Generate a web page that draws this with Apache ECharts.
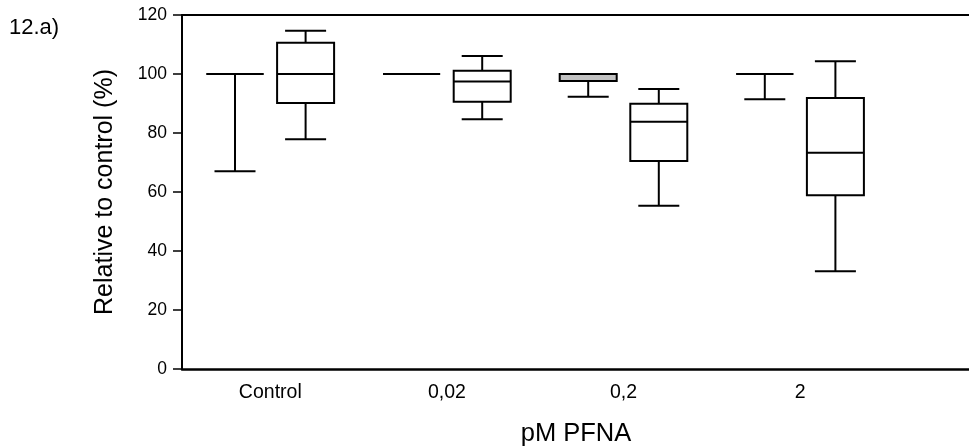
<!DOCTYPE html>
<html>
<head>
<meta charset="utf-8">
<script src="https://cdn.jsdelivr.net/npm/echarts@6/dist/echarts.min.js"></script>
<style>
html,body{margin:0;padding:0;background:#fff;}
#chart{width:969px;height:448px;}
</style>
</head>
<body>
<div id="chart"></div>
<script>
// Categories (the fifth slot is the empty, cropped-off position of the original figure)
const categories = ['Control', '0,02', '0,2', '2', ''];
const yTicks = [0, 20, 40, 60, 80, 100, 120];

// Five-number summaries [min, Q1, median, Q3, max] per category
const leftBoxes = [
  [67, 100, 100, 100, 100],
  [100, 100, 100, 100, 100],
  [92.3, 97.6, 100, 100, 100],
  [91.4, 100, 100, 100, 100]
];
const rightBoxes = [
  [77.9, 90.2, 100, 110.6, 114.7],
  [84.7, 90.6, 97.5, 101.1, 106.1],
  [55.3, 70.5, 83.8, 89.9, 94.9],
  [33.1, 58.9, 73.3, 91.9, 104.3]
];

const BOX_W = 57, CAP_W = 41, OFFSET = 35.3;

function toRows(boxes) {
  return boxes.map((b, i) => [i].concat(b));
}

function makeRender(offset, fill) {
  return function (params, api) {
    const ci = api.value(0);
    const x = api.coord([ci, 0])[0] + offset;
    const y = v => api.coord([ci, v])[1];
    const yMin = y(api.value(1)), yQ1 = y(api.value(2)), yMed = y(api.value(3)),
          yQ3 = y(api.value(4)), yMax = y(api.value(5));
    const ls = { stroke: '#000', lineWidth: 2 };
    const children = [
      { type: 'line', shape: { x1: x, y1: yQ1, x2: x, y2: yMin }, style: ls },
      { type: 'line', shape: { x1: x, y1: yQ3, x2: x, y2: yMax }, style: ls },
      { type: 'line', shape: { x1: x - CAP_W / 2, y1: yMin, x2: x + CAP_W / 2, y2: yMin }, style: ls },
      { type: 'rect', shape: { x: x - BOX_W / 2, y: yQ3, width: BOX_W, height: yQ1 - yQ3 },
        style: { fill: fill, stroke: '#000', lineWidth: 2 } },
      { type: 'line', shape: { x1: x - BOX_W / 2, y1: yMed, x2: x + BOX_W / 2, y2: yMed }, style: ls }
    ];
    if (yMax < yQ3 - 0.5) {
      children.push({ type: 'line', shape: { x1: x - CAP_W / 2, y1: yMax, x2: x + CAP_W / 2, y2: yMax }, style: ls });
    }
    return { type: 'group', children: children };
  };
}

const chart = echarts.init(document.getElementById('chart'), null, { renderer: 'canvas' });
const FONT = 'Liberation Sans, Arial, sans-serif';
chart.setOption({
  animation: false,
  backgroundColor: '#fff',
  title: {
    text: '12.a)', left: 4, top: 12,
    textStyle: { fontFamily: FONT, fontSize: 22, fontWeight: 'normal', color: '#000' }
  },
  grid: {
    left: 182, top: 15, bottom: 79, width: 883,
    outerBoundsMode: 'none', containLabel: false, show: false
  },
  xAxis: [
    {
      type: 'category',
      data: categories,
      boundaryGap: true,
      name: 'pM PFNA',
      nameLocation: 'middle',
      nameGap: 52,
      nameTextStyle: { fontFamily: FONT, fontSize: 25.5, color: '#000', padding: [0, 95, 0, 0] },
      axisLine: { lineStyle: { color: '#000', width: 2.5 } },
      axisTick: { show: false },
      axisLabel: { fontFamily: FONT, fontSize: 19.5, color: '#000', margin: 14 },
      splitLine: { show: false }
    },
    {
      type: 'category',
      data: categories,
      position: 'top',
      silent: true,
      axisLine: { show: true, lineStyle: { color: '#000', width: 2 } },
      axisTick: { show: false },
      axisLabel: { show: false },
      splitLine: { show: false }
    }
  ],
  yAxis: {
    type: 'value',
    min: 0, max: 120, interval: 20,
    name: 'Relative to control (%)',
    nameLocation: 'middle',
    nameGap: 64,
    nameTextStyle: { fontFamily: FONT, fontSize: 25, color: '#000' },
    axisLine: { show: true, lineStyle: { color: '#000', width: 2 } },
    axisTick: { show: true, length: 9, lineStyle: { color: '#000', width: 1.5 } },
    axisLabel: { fontFamily: FONT, fontSize: 17.5, color: '#000', margin: 15,
      formatter: v => (yTicks.indexOf(v) >= 0 ? String(v) : '') },
    splitLine: { show: false }
  },
  series: [
    {
      name: 'Left', type: 'custom', renderItem: makeRender(-OFFSET, '#c2c2c2'),
      encode: { x: 0, y: [1, 2, 3, 4, 5] }, data: toRows(leftBoxes), clip: false
    },
    {
      name: 'Right', type: 'custom', renderItem: makeRender(OFFSET, '#fff'),
      encode: { x: 0, y: [1, 2, 3, 4, 5] }, data: toRows(rightBoxes), clip: false
    }
  ]
});
</script>
</body>
</html>
